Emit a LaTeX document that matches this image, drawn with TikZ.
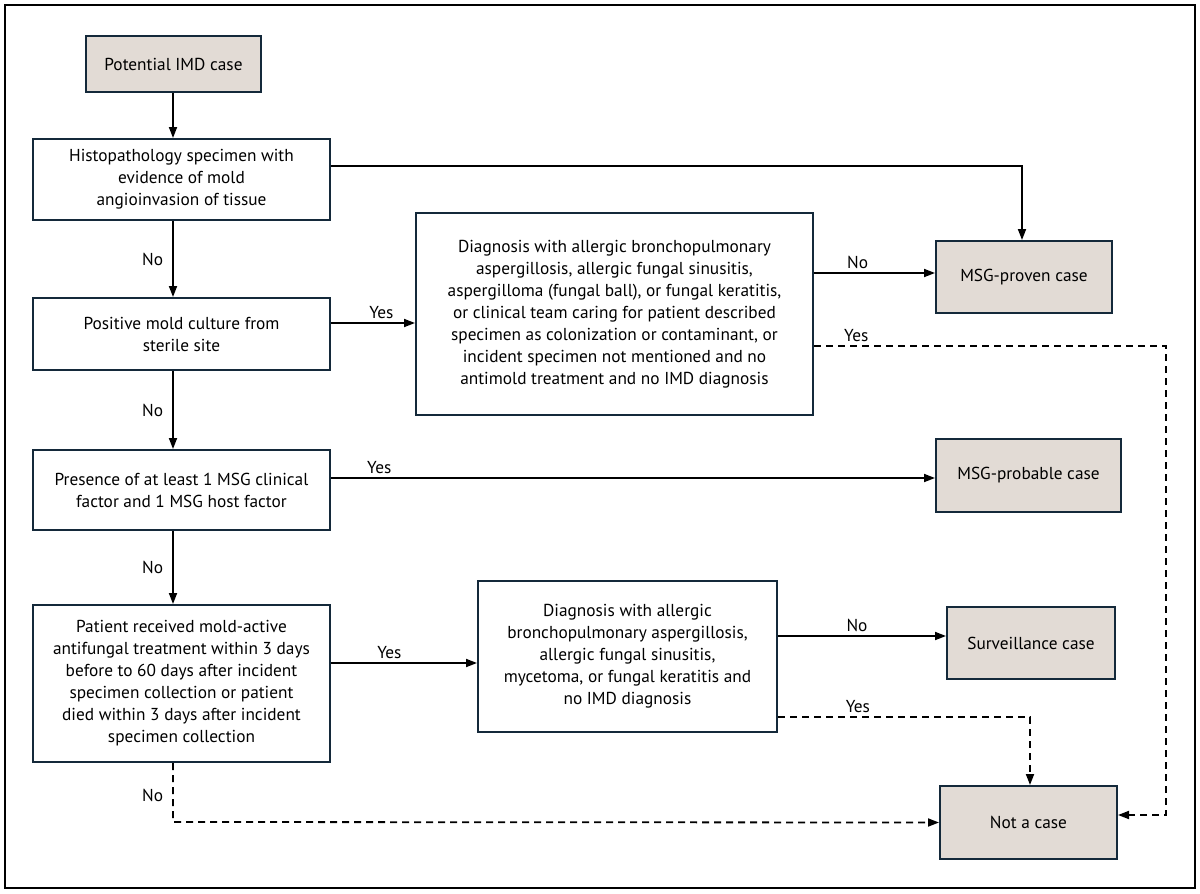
\documentclass[tikz,border=0pt]{standalone}
\usepackage{fontspec}
\setmainfont{PT Sans}
\usetikzlibrary{arrows.meta}
\definecolor{boxc}{HTML}{14293A}
\definecolor{fillc}{HTML}{E2DBD5}
\tikzset{
  box/.style={draw=boxc, line width=2pt, align=center, inner sep=0pt, font=\fontsize{17.3}{22}\selectfont},
  endbox/.style={box, fill=fillc},
  arr/.style={line width=1.8pt, -{Triangle[length=11pt,width=8pt]}},
  dasharr/.style={arr, dash pattern=on 7pt off 5pt},
  lbl/.style={font=\fontsize{17.3}{20}\selectfont, inner sep=3pt}
}
\begin{document}
\begin{tikzpicture}[x=1pt,y=-1pt]
\useasboundingbox (0,0) rectangle (1200,894);
\draw[line width=2pt] (5,5) rectangle (1195,888);

\node[endbox, minimum width=175pt, minimum height=56pt] (pot) at (173.5,64) {Potential IMD case};
\node[box, minimum width=297pt, minimum height=81pt] (hist) at (181.5,179.5) {Histopathology specimen with\\evidence of mold\\angioinvasion of tissue};
\node[box, minimum width=297pt, minimum height=72pt] (pos) at (181.5,334) {Positive mold culture from\\sterile site};
\node[box, minimum width=397pt, minimum height=202pt] (diag) at (614.5,314) {Diagnosis with allergic bronchopulmonary\\aspergillosis, allergic fungal sinusitis,\\aspergilloma (fungal ball), or fungal keratitis,\\or clinical team caring for patient described\\specimen as colonization or contaminant, or\\incident specimen not mentioned and no\\antimold treatment and no IMD diagnosis};
\node[endbox, minimum width=176pt, minimum height=72pt] (proven) at (1024,277) {MSG-proven case};
\node[box, minimum width=297pt, minimum height=80pt] (pres) at (181.5,490) {Presence of at least 1 MSG clinical\\factor and 1 MSG host factor};
\node[endbox, minimum width=185pt, minimum height=73pt] (prob) at (1028.5,475.5) {MSG-probable case};
\node[box, minimum width=297pt, minimum height=157pt] (pat) at (181.5,683.5) {Patient received mold-active\\antifungal treatment within 3 days\\before to 60 days after incident\\specimen collection or patient\\died within 3 days after incident\\specimen collection};
\node[box, minimum width=299pt, minimum height=151pt] (diagb) at (627.5,656.5) {Diagnosis with allergic\\bronchopulmonary aspergillosis,\\allergic fungal sinusitis,\\mycetoma, or fungal keratitis and\\no IMD diagnosis};
\node[endbox, minimum width=168pt, minimum height=72pt] (surv) at (1031,643) {Surveillance case};
\node[endbox, minimum width=177pt, minimum height=73pt] (notc) at (1028.5,822.5) {Not a case};

\coordinate (rc) at (1166,346);
\coordinate (mc) at (1030,717);
\coordinate (bc) at (173,822);

% left column
\draw[arr] ([xshift=-0.5pt]pot.south) -- ([xshift=-0.5pt]pot.south |- hist.north);
\draw[arr] ([xshift=-8.5pt]hist.south) -- node[lbl, left, xshift=-6pt]{No} ([xshift=-8.5pt]pos.north);
\draw[arr] ([xshift=-8.5pt]pos.south) -- node[lbl, left, xshift=-6pt]{No} ([xshift=-8.5pt]pres.north);
\draw[arr] ([xshift=-8.5pt]pres.south) -- node[lbl, left, xshift=-6pt]{No} ([xshift=-8.5pt]pat.north);
\draw[dasharr] ([xshift=-8.5pt]pat.south) -- node[lbl, left, xshift=-6pt, pos=0.55]{No} (bc) -- (notc.west);

% histopathology to proven
\draw[arr] ([yshift=13.5pt]hist.east) -| ([xshift=-2pt]proven.north);

% positive culture to diag
\draw[arr] ([yshift=11pt]pos.east) -- node[lbl, above, pos=0.6]{Yes} ([yshift=11pt]pos.east -| diag.west);
\draw[arr] ([yshift=4pt]proven.west -| diag.east) -- node[lbl, above, pos=0.36]{No} ([yshift=4pt]proven.west);
\draw[dasharr] (diag.east |- rc) -- node[lbl, above, pos=0.12]{Yes} (rc) |- ([yshift=7.5pt]notc.east);

% presence to probable
\draw[arr] ([yshift=12pt]pres.east) -- node[lbl, above, pos=0.08]{Yes} ([yshift=12pt]pres.east -| prob.west);

% patient to diag2
\draw[arr] ([yshift=20.5pt]pat.east) -- node[lbl, above, pos=0.4]{Yes} ([yshift=20.5pt]pat.east -| diagb.west);
\draw[arr] ([yshift=20.5pt]diagb.east) -- node[lbl, above, pos=0.47]{No} ([yshift=20.5pt]diagb.east -| surv.west);
\draw[dasharr] (diagb.east |- mc) -- node[lbl, above, pos=0.317]{Yes} (mc) -- (mc |- notc.north);
\end{tikzpicture}
\end{document}
